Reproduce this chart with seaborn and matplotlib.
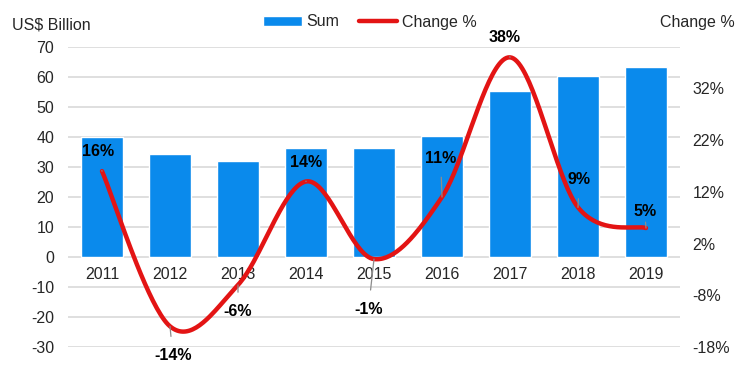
import numpy as np
import pandas as pd
import matplotlib
matplotlib.use("Agg")
import matplotlib.pyplot as plt
from matplotlib.lines import Line2D
from matplotlib.patches import Patch
import seaborn as sns

YEARS = ["2011", "2012", "2013", "2014", "2015", "2016", "2017", "2018", "2019"]
SUM_BILLION = [40.0, 34.2, 32.0, 36.5, 36.2, 40.2, 55.5, 60.5, 63.5]
CHANGE_PCT = [16, -14, -6, 14, -1, 11, 38, 9, 5]

BAR_COLOR = "#0A8AEC"
LINE_COLOR = "#E31414"
GRID_COLOR = "#D9D9D9"
FONT = ["Liberation Sans", "DejaVu Sans"]

# label offsets in points (dx, dy) from each line point
LABEL_OFFSETS = [(-3, 14), (2, -21), (0, -19), (0, 14), (-4, -36),
                 (-1, 28), (-4, 14), (1, 20), (-1, 12)]


def smooth_curve(xs, ys, steps=40):
    # Excel-style smoothed line: cubic bezier with 1/6 tangents
    pts = np.column_stack([xs, ys]).astype(float)
    n = len(pts)
    out = []
    t = np.linspace(0, 1, steps)[:, None]
    for i in range(n - 1):
        p0 = pts[max(i - 1, 0)]
        p1 = pts[i]
        p2 = pts[i + 1]
        p3 = pts[min(i + 2, n - 1)]
        c1 = p1 + (p2 - p0) / 6
        c2 = p2 - (p3 - p1) / 6
        seg = ((1 - t) ** 3) * p1 + 3 * ((1 - t) ** 2) * t * c1 \
            + 3 * (1 - t) * t ** 2 * c2 + t ** 3 * p2
        out.append(seg if i == 0 else seg[1:])
    seg = np.vstack(out)
    return seg[:, 0], seg[:, 1]


def main() -> None:
    sns.set_theme(style="white")
    plt.rcParams["font.family"] = FONT
    plt.rcParams["font.size"] = 11.5
    plt.rcParams["axes.unicode_minus"] = False

    df = pd.DataFrame({"Year": YEARS, "Sum": SUM_BILLION, "Change": CHANGE_PCT})

    fig = plt.figure(figsize=(7.43, 3.81), dpi=100)
    ax = fig.add_axes([68 / 743, 34 / 381, 612 / 743, 300 / 381])

    sns.barplot(data=df, x="Year", y="Sum", color=BAR_COLOR, width=0.62,
                saturation=1, ax=ax, zorder=2)
    ax.set_ylim(-30, 70)
    ax.set_xlim(-0.5, len(YEARS) - 0.5)
    ax.set_yticks(range(-30, 71, 10))
    ax.yaxis.grid(True, color=GRID_COLOR, linewidth=1.2, zorder=0)
    ax.set_axisbelow(True)
    for s in ax.spines.values():
        s.set_visible(False)
    ax.set_xlabel("")
    ax.set_ylabel("")
    ax.tick_params(axis="y", length=0, pad=10, labelsize=11.5)
    # category labels sit just under the zero line
    ax.set_xticks([])
    for i, yr in enumerate(YEARS):
        ax.annotate(yr, xy=(i, 0), xytext=(0, -7), textcoords="offset points",
                    ha="center", va="top", fontsize=11.5)

    ax2 = ax.twinx()
    ax2.set_ylim(-18, 40)
    ax2.set_yticks(range(-18, 33, 10))
    ax2.set_yticklabels([f"{v}%" for v in range(-18, 33, 10)])
    ax2.tick_params(axis="y", length=0, pad=9, labelsize=11.5)
    for s in ax2.spines.values():
        s.set_visible(False)

    xs = np.arange(len(YEARS))
    cx, cy = smooth_curve(xs, CHANGE_PCT)
    ax2.plot(cx, cy, color=LINE_COLOR, linewidth=3.2, solid_capstyle="round",
             zorder=3)

    for i, (v, (dx, dy)) in enumerate(zip(CHANGE_PCT, LABEL_OFFSETS)):
        ax2.annotate(f"{v}%", xy=(i, v), xytext=(dx, dy),
                     textcoords="offset points", ha="center", va="center",
                     fontsize=11.5, fontweight="bold", color="#000000",
                     arrowprops=dict(arrowstyle="-", color="#8C8C8C",
                                     linewidth=0.9, shrinkA=6, shrinkB=0),
                     zorder=4)

    fig.text(12 / 743, 1 - 25 / 381, "US$ Billion", ha="left", va="center",
             fontsize=11.5)
    fig.text(735 / 743, 1 - 23 / 381, "Change %", ha="right", va="center",
             fontsize=11.5)

    handles = [Patch(facecolor=BAR_COLOR, label="Sum"),
               Line2D([0], [0], color=LINE_COLOR, linewidth=3.2,
                      label="Change %")]
    fig.legend(handles=handles, loc="center", bbox_to_anchor=(370 / 743, 1 - 22 / 381),
               ncol=2, frameon=False, fontsize=11.5, handlelength=2.4,
               handleheight=0.6, columnspacing=1.2, handletextpad=0.3)

    fig.savefig("out.png", dpi=100)


if __name__ == "__main__":
    main()
